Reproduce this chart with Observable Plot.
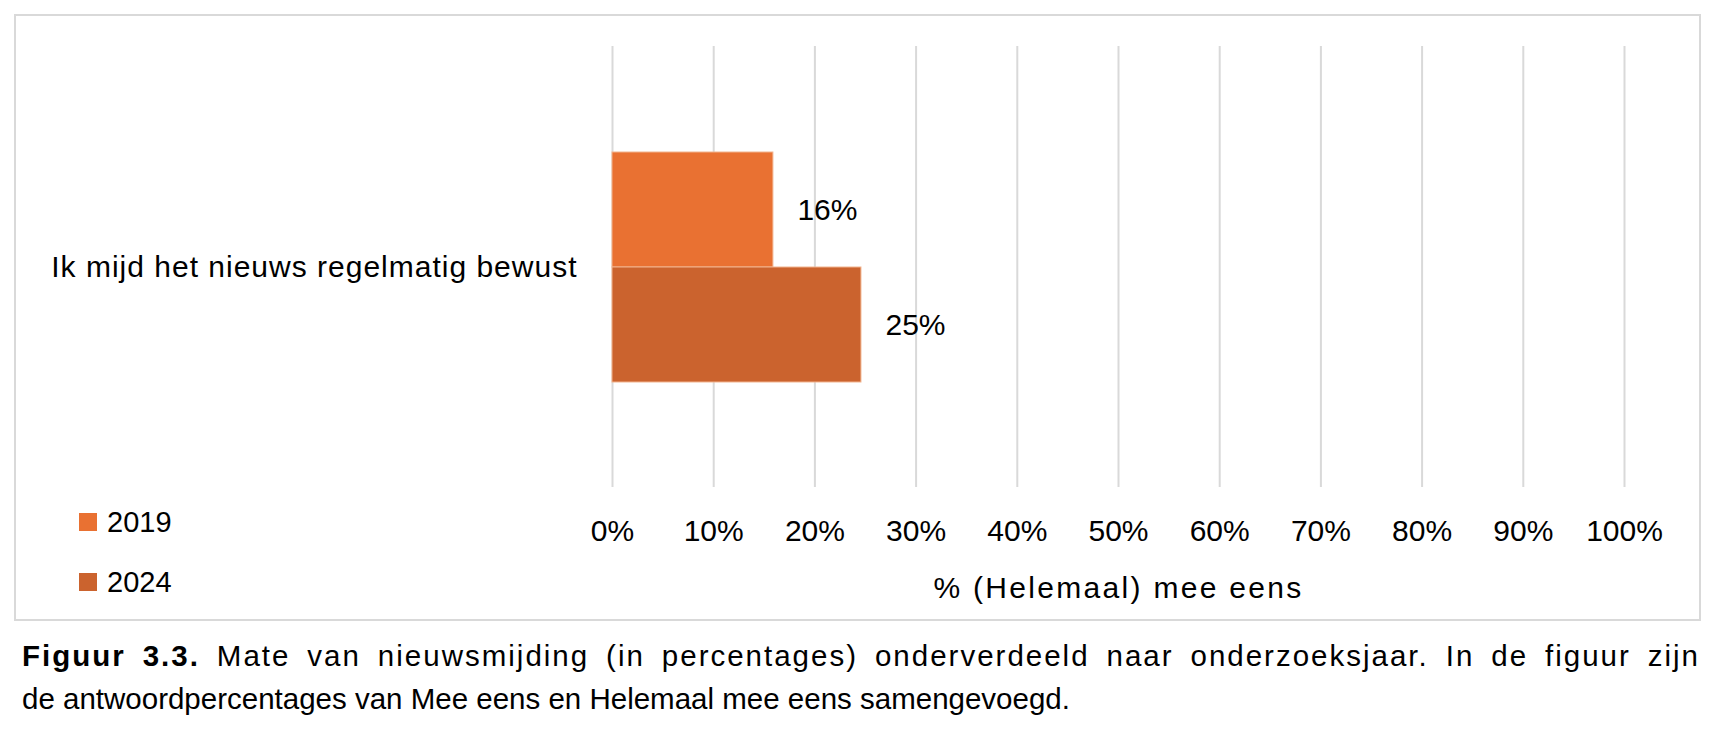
<!DOCTYPE html>
<html><head><meta charset="utf-8">
<script src="https://cdn.jsdelivr.net/npm/d3@7"></script>
<script src="https://cdn.jsdelivr.net/npm/@observablehq/plot@0.6"></script>
<style>
body{margin:0;background:#fff;font-family:"Liberation Sans",Arial,sans-serif;color:#000;}
#wrap{position:relative;width:1714px;height:740px;overflow:hidden;}
#frame{position:absolute;left:14px;top:14px;width:1687px;height:607px;border:2px solid #d9d9d9;box-sizing:border-box;}
#chart{position:absolute;left:15px;top:15px;}
#legend{position:absolute;left:79px;top:513px;font-size:29px;}
.item{position:absolute;left:0;display:flex;align-items:center;white-space:nowrap;height:18px;}
.sw{width:18px;height:18px;margin-right:10px;}
#caption{position:absolute;left:22px;top:634px;width:1678px;font-size:29.5px;line-height:43px;}
#caption .l1{text-align:justify;text-align-last:justify;white-space:nowrap;letter-spacing:2px;}
#caption .l2{white-space:nowrap;}
#chart [aria-label="x-axis label"] text{letter-spacing:2.3px;}
#chart [aria-label="fy-axis tick label"] text{letter-spacing:1px;}
</style></head>
<body><div id="wrap"><div id="frame"></div><div id="chart"></div><div id="legend"></div>
<div id="caption"><div class="l1"><b>Figuur 3.3.</b> Mate van nieuwsmijding (in percentages) onderverdeeld naar onderzoeksjaar. In de figuur zijn</div><div class="l2">de antwoordpercentages van Mee eens en Helemaal mee eens samengevoegd.</div></div></div>
<script>
const categories = ["Ik mijd het nieuws regelmatig bewust"];
const years = ["2019", "2024"];
const values2019 = [15.9];
const values2024 = [24.6];
const colors = ["#E97132", "#CB632E"];
const xTicks = [0, 10, 20, 30, 40, 50, 60, 70, 80, 90, 100];
const xLabel = "% (Helemaal) mee eens";

const rows = [];
categories.forEach((c, i) => {
  rows.push({category: c, year: years[0], value: values2019[i]});
  rows.push({category: c, year: years[1], value: values2024[i]});
});

const chart = Plot.plot({
  width: 1685, height: 605,
  marginLeft: 597, marginRight: 76, marginTop: 31, marginBottom: 133,
  style: {fontFamily: '"Liberation Sans", Arial, sans-serif', color: "#000", background: "transparent"},
  x: {domain: [0, 100]},
  y: {domain: years, paddingInner: 0, paddingOuter: 0.909, axis: null},
  fy: {domain: categories, padding: 0},
  color: {domain: years, range: colors},
  marks: [
    Plot.gridX(xTicks, {stroke: "#d9d9d9", strokeWidth: 2, strokeOpacity: 1}),
    Plot.barX(rows, {x: "value", y: "year", fy: "category", fill: "year", stroke: "#f2b48e", strokeWidth: 1}),
    Plot.text(rows, {x: "value", y: "year", fy: "category", text: d => Math.round(d.value) + "%", textAnchor: "start", dx: 24, fontSize: 30, fill: "#000"}),
    Plot.axisX({ticks: xTicks, tickFormat: d => d + "%", tickSize: 0, tickPadding: 32, fontSize: 30, label: xLabel, labelAnchor: "center", labelOffset: 110, labelArrow: "none"}),
    Plot.axisFy({anchor: "left", tickSize: 0, tickPadding: 35, fontSize: 30, label: null})
  ]
});
document.getElementById("chart").appendChild(chart);

const legend = document.getElementById("legend");
years.forEach((y, i) => {
  const it = document.createElement("div");
  it.className = "item";
  it.style.top = (i * 60) + "px";
  it.innerHTML = `<span class="sw" style="background:${colors[i]}"></span><span>${y}</span>`;
  legend.appendChild(it);
});
</script></body></html>
